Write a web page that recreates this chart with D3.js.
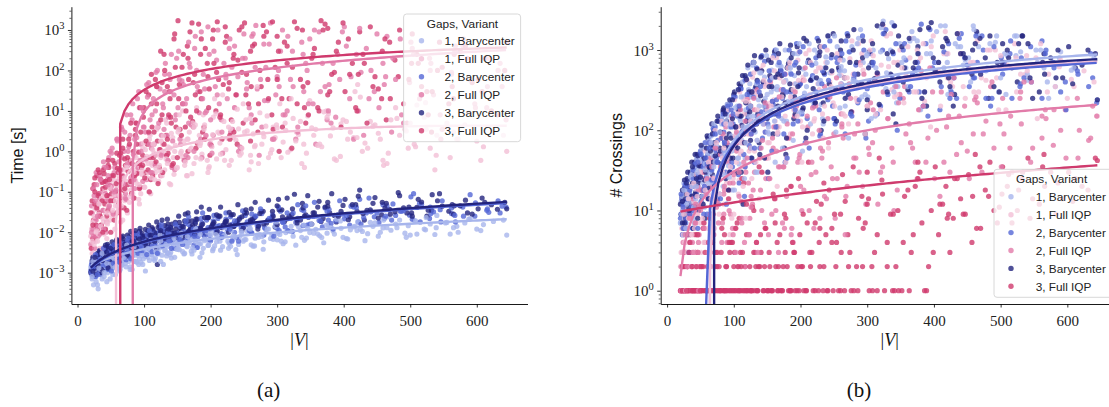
<!DOCTYPE html>
<html>
<head>
<meta charset="utf-8">
<script src="https://cdn.jsdelivr.net/npm/d3@7"></script>
<style>
  body { margin: 0; background: #fff; }
  svg { display: block; }
</style>
</head>
<body>
<script>
// ------------------------------------------------------------------
// Data: one entry per graph instance, grouped by number of gaps.
// Each variant (Barycenter / Full IQP) was run on the same graphs.
// ------------------------------------------------------------------
const hueLabels = ["1, Barycenter", "1, Full IQP", "2, Barycenter", "2, Full IQP", "3, Barycenter", "3, Full IQP"];
const hueColors = ["#a7b5ec", "#f3bfd6", "#5466d6", "#e27ba9", "#23247e", "#cf3a6d"];

const xTicks = [0, 100, 200, 300, 400, 500, 600];
const timeTicks = [1e-3, 1e-2, 1e-1, 1e0, 1e1, 1e2, 1e3];
const crossTicks = [1e0, 1e1, 1e2, 1e3];

// |V| of the instances with 1, 2 and 3 gaps
const gaps1V = [
20,21,23,24,26,27,28,30,31,33,
34,36,37,39,41,42,44,46,47,49,
51,53,54,56,58,60,62,63,65,67,
69,71,73,75,77,80,82,84,86,89,
91,93,96,98,100,103,105,108,110,112,
115,117,119,
122,125,128,131,134,137,140,143,146,150,
153,157,160,164,168,171,175,179,183,187,
191,196,200,204,209,213,218,223,228,233,
238,244,249,
255,261,267,274,280,287,294,301,309,316,
324,332,341,349,358,367,377,386,396,406,417,
428,440,452,465,478,492,506,521,537,553,
570,588,606,625,645,
20,22,23,25,26,29,30,32,35,36,
38,40,41,43,45,48,50,52,55,57,
59,61,64,66,68,70,72,74,78,79,
81,83,85,87,90,92,94,97,99,101,
104,106,107,109,111,113,116,118,120,121,
123,126,127,130,132,135,136,138,141,144,
147,149,152,155,158,162,165,169,172,177,
181,185,189,193,198,202,206,211,215,220,
226,231,236,242,247,253,258,264,270,277,
283,290,297,304,312,320,329,337,346,355,
364,374,384,395,404,415,425,436,447,459,
471,484,497,510,524,539,555,572,590,610,
22,25,28,32,37,40,44,49,53,57,
62,66,70,74,79,83,88,93,97,102,
106,111,114,118,124,129,133,139,145,151,
156,161,166,173,178,184,190,197,203,208,
214,221,227,234,240,246,251,259,266,272,
279,285,292,299,306,313,321,328,335,344,
352,361,370,380,389,399,410,421,432,444,
455,467,480,494,508,523,540,560,582,600,
45,85,95,125,135,165,175,185,195,230,
260,300,340,375,420,460,500,530,565,640];

const gaps2V = [
20,22,23,25,26,28,29,31,32,34,
35,37,38,40,42,43,45,47,48,50,
52,53,55,57,59,61,62,64,66,68,
70,72,74,76,79,81,83,85,88,90,
92,95,97,99,102,104,107,109,111,114,
116,118,121,
124,126,129,132,135,139,142,145,148,152,
155,159,162,166,169,173,177,181,185,189,
194,198,202,207,211,216,220,225,230,236,
241,246,252,
258,264,270,277,283,290,298,305,312,320,
328,337,345,354,363,372,381,391,401,411,422,
434,446,459,472,485,499,514,529,545,562,
579,597,616,635,644,
21,21,24,24,27,28,31,33,34,37,
39,39,42,44,46,47,49,51,54,56,
58,60,63,65,67,69,71,73,75,77,
80,82,84,86,89,91,93,96,98,100,
103,105,108,110,112,115,117,119,122,123,
125,128,130,131,134,137,140,143,146,149,
151,154,157,160,164,167,171,175,179,183,
187,191,196,200,204,209,213,218,223,228,
233,239,244,250,255,261,267,273,280,286,
293,300,308,315,323,331,340,349,358,368,
378,388,398,409,419,430,441,453,465,478,
490,503,517,531,546,562,580,598,618,638,
24,27,30,34,39,43,47,51,55,60,
63,67,72,76,80,85,90,94,99,104,
108,112,117,120,126,131,136,141,147,153,
158,163,168,174,180,186,192,199,205,210,
217,223,229,236,242,248,254,262,268,275,
281,288,295,302,309,316,324,331,339,347,
356,365,375,384,394,404,415,426,438,450,
461,474,487,501,515,530,548,567,590,615,
46,86,96,126,138,167,176,188,193,232,
262,303,343,377,424,463,505,535,568,632];

const gaps3V = [
21,22,24,25,27,28,29,30,32,33,
35,36,38,39,41,43,44,45,47,49,
50,52,54,56,57,59,61,63,64,66,
68,70,72,75,77,79,81,84,86,88,
91,93,95,98,100,102,105,107,110,112,
114,117,120,
123,127,130,133,136,138,141,144,147,151,
154,158,161,165,170,174,178,182,186,190,
195,199,203,208,212,217,222,227,231,235,
240,247,251,
257,263,271,276,284,292,297,303,311,318,
326,335,343,352,361,369,379,389,399,409,420,
431,444,457,469,482,495,510,525,541,558,
575,593,612,631,645,
20,23,23,26,26,28,31,31,34,37,
37,40,42,42,46,46,48,51,53,55,
58,60,62,65,67,69,71,74,76,78,
80,82,85,87,89,92,94,96,99,101,
103,106,108,109,111,113,115,118,119,121,
124,125,128,131,134,135,139,142,145,148,
150,153,156,159,163,166,169,173,176,180,
184,188,192,197,201,205,210,214,219,224,
229,234,238,243,249,254,260,266,272,279,
286,294,300,307,315,322,330,339,347,356,
366,376,386,396,407,418,429,440,452,464,
477,490,503,517,532,548,565,583,602,622,
23,26,29,33,38,42,46,50,54,59,
63,68,71,75,80,84,89,94,98,103,
107,111,116,119,125,130,135,140,146,152,
157,162,167,172,179,185,191,198,204,209,
215,222,228,235,241,247,253,260,267,274,
280,287,293,300,308,315,323,330,338,346,
354,363,372,382,392,402,413,424,435,447,
458,470,484,498,512,527,544,563,586,608,
44,87,93,127,137,166,177,186,196,229,
261,302,341,376,422,462,502,533,566,642];

// Running time [s]
const time1Bary = [
0.0012,0.0009,0.0016,0.0005,0.0011,0.0020,0.0008,0.0013,0.0004,0.0017,
0.0010,0.0022,0.0007,0.0014,0.0019,0.0011,0.0006,0.0025,0.0015,0.0012,
0.0021,0.0009,0.0017,0.0028,0.0013,0.0019,0.0024,0.0011,0.0030,0.0016,
0.0021,0.0026,0.0014,0.0033,0.0019,0.0024,0.0012,0.0029,0.0036,0.0018,
0.0027,0.0022,0.0040,0.0016,0.0031,0.0025,0.0045,0.0020,0.0034,0.0028,
0.0052,0.0023,0.0038,
0.0030,0.0019,0.0043,0.0035,0.0026,0.0058,0.0032,0.0041,0.0024,0.0050,
0.0037,0.0065,0.0029,0.0046,0.0055,0.0034,0.0072,0.0042,0.0051,0.0031,
0.0062,0.0047,0.0083,0.0039,0.0058,0.0070,0.0044,0.0092,0.0053,0.0066,
0.0037,0.0078,0.0060,
0.0105,0.0049,0.0071,0.0088,0.0058,0.0120,0.0067,0.0095,0.0052,0.0110,
0.0080,0.0136,0.0063,0.0098,0.0118,0.0074,0.0150,0.0090,0.0125,0.0068,0.0140,
0.0105,0.0175,0.0080,0.0130,0.0160,0.0095,0.0195,0.0120,0.0088,0.0170,
0.0140,0.0210,0.0110,0.0185,0.0085,
0.0014,0.0007,0.0019,0.0011,0.0026,0.0009,0.0005,0.0016,0.0021,0.0012,
0.0018,0.0008,0.0024,0.0014,0.0010,0.0031,0.0017,0.0013,0.0022,0.0009,
0.0026,0.0015,0.0012,0.0034,0.0020,0.0029,0.0017,0.0039,0.0023,0.0014,
0.0031,0.0044,0.0019,0.0027,0.0036,0.0016,0.0050,0.0030,0.0022,0.0041,
0.0033,0.0024,0.0057,0.0038,0.0028,0.0047,0.0020,0.0035,0.0062,0.0029,
0.0040,0.0052,0.0027,0.0068,0.0036,0.0045,0.0031,0.0059,0.0023,0.0049,
0.0063,0.0038,0.0048,0.0080,0.0033,0.0056,0.0044,0.0070,0.0029,0.0060,
0.0051,0.0089,0.0040,0.0067,0.0057,0.0100,0.0046,0.0075,0.0036,0.0083,
0.0060,0.0110,0.0072,0.0050,0.0095,0.0066,0.0125,0.0045,0.0085,0.0078,
0.0115,0.0070,0.0140,0.0088,0.0058,0.0105,0.0160,0.0075,0.0125,0.0095,
0.0082,0.0150,0.0108,0.0190,0.0070,0.0135,0.0118,0.0092,0.0170,0.0128,
0.0112,0.0200,0.0145,0.0090,0.0230,0.0130,0.0175,0.0100,0.0215,0.0155,
0.0008,0.0021,0.0006,0.0013,0.0030,0.0010,0.0017,0.0007,0.0024,0.0014,
0.0036,0.0015,0.0024,0.0048,0.0012,0.0030,0.0019,0.0058,0.0026,0.0011,
0.0040,0.0065,0.0022,0.0033,0.0085,0.0016,0.0050,0.0028,0.0072,0.0038,
0.0095,0.0030,0.0055,0.0042,0.0120,0.0024,0.0068,0.0048,0.0035,0.0088,
0.0060,0.0130,0.0040,0.0082,0.0028,0.0105,0.0066,0.0150,0.0046,0.0075,
0.0038,0.0120,0.0085,0.0180,0.0060,0.0098,0.0140,0.0048,0.0110,0.0072,
0.0160,0.0090,0.0055,0.0130,0.0210,0.0075,0.0115,0.0180,0.0062,0.0140,
0.0100,0.0240,0.0130,0.0075,0.0190,0.0115,0.0260,0.0090,0.0170,0.0120,
0.0026,0.0044,0.0018,0.0062,0.0030,0.0078,0.0036,0.0052,0.0100,0.0045,
0.0120,0.0065,0.0150,0.0095,0.0110,0.0200,0.0085,0.0160,0.0130,0.0200];

const time1Iqp = [
0.004,0.012,0.003,0.008,0.020,0.006,0.015,0.035,0.009,0.004,
0.025,0.060,0.012,0.018,0.090,0.030,0.007,0.045,0.150,0.020,
0.070,0.030,0.200,0.012,0.100,0.045,0.250,0.080,0.018,0.140,
0.350,0.060,0.180,0.030,0.500,0.110,0.250,0.070,0.800,0.160,
0.400,0.050,0.280,1.200,0.130,0.600,0.220,2.000,0.090,0.450,
0.900,0.300,3.500,
0.180,0.700,1.500,0.350,5.000,0.550,0.150,2.200,1.000,0.400,
8.000,0.750,1.800,0.250,3.000,1.200,0.500,12.00,2.500,0.850,
4.500,0.300,1.600,7.000,0.650,2.800,25.00,1.100,0.450,5.500,
1.900,0.800,15.00,
3.200,0.550,1.400,9.000,2.300,0.700,4.000,60.00,1.700,0.950,
6.500,2.600,0.400,18.00,3.500,1.300,8.500,0.650,4.800,2.000,30.00,
1.000,5.500,2.800,0.500,12.00,3.500,1.500,7.000,0.350,4.000,
2.000,9.000,0.600,3.000,1.000,
0.008,0.003,0.018,0.005,0.040,0.011,0.006,0.028,0.014,0.070,
0.022,0.009,0.110,0.035,0.016,0.060,0.190,0.026,0.085,0.045,
0.140,0.032,0.300,0.075,0.020,0.220,0.110,0.450,0.055,0.170,
0.600,0.090,0.350,0.190,1.000,0.065,0.420,0.270,1.600,0.130,
0.750,0.300,0.100,2.500,0.520,1.100,0.200,0.380,4.000,0.850,
0.450,1.800,0.250,0.950,6.000,0.600,1.300,0.160,2.800,0.700,
1.400,0.380,3.500,0.900,10.00,0.550,2.000,1.100,0.280,4.500,
1.700,0.650,8.000,2.400,0.420,1.300,20.00,3.000,0.850,5.500,
2.100,0.600,12.00,3.600,1.200,6.000,0.350,2.700,40.00,1.500,
4.200,0.900,2.200,15.00,5.000,1.100,3.000,0.500,7.500,2.500,
1.500,10.00,3.800,0.750,5.500,2.200,22.00,1.200,4.500,0.600,
6.000,2.500,1.200,14.00,3.500,0.800,5.000,2.000,9.000,1.300,
0.006,0.025,0.010,0.050,0.004,0.080,0.018,0.130,0.035,0.060,
0.200,0.045,0.120,0.400,0.075,0.250,0.700,0.150,0.350,1.100,
0.500,0.220,1.500,0.800,0.330,2.400,0.650,1.200,0.270,3.000,
1.000,0.450,2.000,5.000,0.700,1.400,3.500,0.380,2.600,8.500,
1.600,0.600,4.000,2.200,11.00,0.900,3.000,6.500,1.300,0.500,
2.800,7.500,1.100,4.500,0.700,3.300,20.00,1.800,5.500,0.900,
3.800,1.400,9.500,2.400,0.600,6.000,3.000,45.00,1.600,4.200,
2.000,0.900,6.500,3.200,1.300,16.00,2.500,0.700,4.500,1.800,
0.030,0.300,0.090,1.800,0.500,0.250,4.000,1.600,0.600,3.600,
0.800,3.800,1.500,7.000,2.200,0.450,5.000,1.200,3.000,2.500];

const time2Bary = [
0.0011,0.0018,0.0008,0.0014,0.0022,0.0010,0.0017,0.0026,0.0013,0.0020,
0.0009,0.0030,0.0016,0.0024,0.0035,0.0013,0.0027,0.0040,0.0019,0.0031,
0.0022,0.0045,0.0016,0.0036,0.0027,0.0050,0.0021,0.0040,0.0032,0.0058,
0.0025,0.0046,0.0037,0.0065,0.0029,0.0052,0.0041,0.0075,0.0033,0.0060,
0.0047,0.0085,0.0038,0.0066,0.0053,0.0095,0.0042,0.0073,0.0058,0.0110,
0.0048,0.0080,0.0064,
0.0120,0.0052,0.0088,0.0070,0.0135,0.0058,0.0095,0.0078,0.0150,0.0065,
0.0105,0.0085,0.0165,0.0072,0.0115,0.0093,0.0180,0.0078,0.0125,0.0100,
0.0200,0.0085,0.0135,0.0110,0.0220,0.0092,0.0150,0.0120,0.0240,0.0100,
0.0165,0.0130,0.0260,
0.0110,0.0180,0.0145,0.0290,0.0120,0.0200,0.0160,0.0330,0.0135,0.0220,
0.0175,0.0360,0.0150,0.0245,0.0195,0.0400,0.0165,0.0270,0.0215,0.0440,0.0180,
0.0300,0.0240,0.0480,0.0200,0.0330,0.0265,0.0520,0.0220,0.0360,0.0290,
0.0420,0.0250,0.0380,0.0300,0.0420,
0.0016,0.0010,0.0023,0.0013,0.0008,0.0019,0.0027,0.0012,0.0021,0.0033,
0.0015,0.0026,0.0020,0.0038,0.0012,0.0030,0.0022,0.0044,0.0017,0.0034,
0.0025,0.0048,0.0019,0.0036,0.0055,0.0028,0.0042,0.0021,0.0060,0.0033,
0.0046,0.0026,0.0068,0.0038,0.0053,0.0030,0.0077,0.0044,0.0035,0.0062,
0.0050,0.0085,0.0039,0.0066,0.0033,0.0094,0.0055,0.0072,0.0043,0.0105,
0.0060,0.0046,0.0115,0.0075,0.0052,0.0090,0.0128,0.0064,0.0040,0.0098,
0.0083,0.0140,0.0058,0.0110,0.0070,0.0155,0.0092,0.0048,0.0125,0.0100,
0.0170,0.0080,0.0130,0.0062,0.0190,0.0110,0.0145,0.0088,0.0210,0.0120,
0.0160,0.0075,0.0230,0.0135,0.0180,0.0100,0.0250,0.0150,0.0085,0.0200,
0.0270,0.0125,0.0180,0.0300,0.0105,0.0220,0.0340,0.0160,0.0250,0.0135,
0.0370,0.0190,0.0280,0.0150,0.0410,0.0230,0.0320,0.0175,0.0450,0.0260,
0.0340,0.0210,0.0490,0.0290,0.0180,0.0400,0.0250,0.0530,0.0310,0.0440,
0.0014,0.0028,0.0009,0.0020,0.0040,0.0015,0.0032,0.0011,0.0050,0.0025,
0.0018,0.0045,0.0030,0.0072,0.0022,0.0055,0.0095,0.0035,0.0065,0.0028,
0.0110,0.0045,0.0075,0.0030,0.0130,0.0058,0.0095,0.0040,0.0160,0.0068,
0.0050,0.0190,0.0085,0.0120,0.0042,0.0220,0.0100,0.0065,0.0260,0.0140,
0.0075,0.0300,0.0120,0.0190,0.0060,0.0340,0.0160,0.0095,0.0250,0.0380,
0.0130,0.0220,0.0080,0.0420,0.0175,0.0110,0.0300,0.0480,0.0145,0.0240,
0.0550,0.0190,0.0330,0.0120,0.0600,0.0260,0.0420,0.0160,0.0700,0.0300,
0.0220,0.0500,0.0330,0.0750,0.0180,0.0420,0.0600,0.0260,0.0850,0.0350,
0.0022,0.0090,0.0040,0.0160,0.0060,0.0240,0.0080,0.0300,0.0110,0.0060,
0.0280,0.0110,0.0450,0.0200,0.0650,0.0250,0.0900,0.0320,0.0180,0.0600];

const time2Iqp = [
0.005,0.030,0.012,0.080,0.004,0.020,0.150,0.008,0.050,0.250,
0.015,0.100,0.035,0.400,0.060,0.010,0.200,0.700,0.045,0.120,
1.200,0.030,0.300,0.080,2.000,0.180,0.550,0.040,4.000,0.250,
1.000,0.090,8.000,0.450,2.500,0.150,15.00,0.800,5.000,0.300,
30.00,1.500,0.600,10.00,3.000,0.200,50.00,6.000,1.200,20.00,
0.500,90.00,4.000,
35.00,0.900,12.00,150.0,2.500,60.00,0.400,25.00,8.000,300.0,
1.500,45.00,15.00,0.700,120.0,5.000,700.0,30.00,2.000,80.00,
10.00,250.0,0.900,40.00,1000,6.000,150.0,20.00,3.000,400.0,
70.00,1.200,200.0,
12.00,800.0,35.00,4.000,120.0,1500,25.00,300.0,8.000,60.00,
2.000,500.0,100.0,15.00,900.0,40.00,5.000,250.0,1200,70.00,10.00,
350.0,30.00,150.0,3.000,600.0,50.00,20.00,200.0,8.000,90.00,
400.0,15.00,40.00,150.0,6.000,
0.010,0.045,0.006,0.120,0.022,0.300,0.014,0.070,0.009,0.180,
0.035,0.550,0.090,0.018,0.250,0.060,1.000,0.140,0.028,0.400,
0.110,1.800,0.040,0.350,0.700,0.160,3.000,0.065,0.500,1.300,
0.220,6.000,0.850,0.120,2.200,0.400,12.00,1.000,0.180,4.000,
0.650,22.00,2.800,0.300,8.000,1.500,0.450,40.00,5.000,1.100,
0.250,15.00,3.500,80.00,0.800,7.000,30.00,1.800,0.350,200.0,
12.00,2.000,55.00,0.600,20.00,500.0,4.500,1.000,100.0,9.000,
0.700,35.00,1200,6.000,2.500,180.0,15.00,0.900,65.00,350.0,
3.500,25.00,1.300,800.0,50.00,8.000,120.0,0.800,450.0,18.00,
2.000,70.00,1000,10.00,300.0,4.000,30.00,600.0,1.500,150.0,
45.00,7.000,900.0,20.00,250.0,2.500,100.0,12.00,700.0,60.00,
5.000,350.0,25.00,150.0,2.000,80.00,600.0,12.00,200.0,40.00,
0.008,0.060,0.025,0.200,0.012,0.400,0.040,0.900,0.100,2.000,
0.300,3.500,0.070,1.000,8.000,0.200,20.00,0.600,4.000,45.00,
1.500,0.300,10.00,100.0,2.500,30.00,0.600,250.0,6.000,60.00,
15.00,0.800,150.0,4.000,40.00,900.0,9.000,1.500,300.0,25.00,
3.000,80.00,600.0,12.00,1.000,200.0,35.00,5.000,1300,60.00,
18.00,450.0,2.000,100.0,8.000,700.0,40.00,3.000,250.0,15.00,
1000,30.00,6.000,150.0,60.00,400.0,2.000,90.00,20.00,800.0,
45.00,200.0,8.000,500.0,25.00,100.0,3.500,300.0,60.00,12.00,
0.150,2.000,12.00,0.800,80.00,5.000,350.0,20.00,2.500,120.0,
700.0,40.00,150.0,10.00,1100,70.00,250.0,25.00,400.0,100.0];

const time3Bary = [
0.0012,0.0020,0.0009,0.0015,0.0025,0.0011,0.0018,0.0030,0.0014,0.0022,
0.0010,0.0035,0.0019,0.0027,0.0042,0.0016,0.0031,0.0050,0.0023,0.0037,
0.0014,0.0058,0.0028,0.0043,0.0019,0.0066,0.0034,0.0050,0.0024,0.0075,
0.0040,0.0056,0.0030,0.0085,0.0046,0.0064,0.0035,0.0095,0.0052,0.0072,
0.0040,0.0105,0.0058,0.0080,0.0045,0.0118,0.0064,0.0088,0.0050,0.0130,
0.0070,0.0096,0.0016,
0.0145,0.0078,0.0105,0.0060,0.0160,0.0085,0.0115,0.0066,0.0175,0.0093,
0.0125,0.0072,0.0190,0.0100,0.0135,0.0079,0.0210,0.0110,0.0148,0.0086,
0.0230,0.0120,0.0160,0.0094,0.0250,0.0130,0.0175,0.0100,0.0270,0.0140,
0.0190,0.0110,0.0300,
0.0155,0.0210,0.0120,0.0330,0.0170,0.0230,0.0135,0.0360,0.0185,0.0250,
0.0870,0.0200,0.0270,0.0160,0.0420,0.0220,0.0300,0.0180,0.0460,0.0240,0.0330,
0.0200,0.0520,0.0270,0.0370,0.0950,0.0300,0.0410,0.0250,0.0600,0.0330,
0.0450,0.0280,0.0550,0.0370,0.0380,
0.0010,0.0017,0.0024,0.0013,0.0021,0.0009,0.0028,0.0016,0.0034,0.0020,
0.0012,0.0030,0.0024,0.0039,0.0017,0.0045,0.0027,0.0021,0.0033,0.0051,
0.0038,0.0023,0.0060,0.0045,0.0030,0.0068,0.0037,0.0053,0.0026,0.0078,
0.0044,0.0062,0.0032,0.0088,0.0050,0.0071,0.0038,0.0097,0.0057,0.0080,
0.0046,0.0110,0.0065,0.0085,0.0052,0.0120,0.0072,0.0094,0.0040,0.0132,
0.0078,0.0100,0.0060,0.0145,0.0088,0.0112,0.0068,0.0160,0.0094,0.0122,
0.0075,0.0175,0.0105,0.0135,0.0082,0.0190,0.0115,0.0148,0.0090,0.0210,
0.0125,0.0160,0.0098,0.0230,0.0138,0.0175,0.0108,0.0250,0.0150,0.0190,
0.0118,0.0275,0.0165,0.0210,0.0130,0.0300,0.0180,0.0230,0.0142,0.0330,
0.0195,0.0250,0.0155,0.0360,0.0215,0.0275,0.0170,0.0400,0.0235,0.0300,
0.0185,0.0440,0.0260,0.0330,0.0205,0.0480,0.0290,0.0360,0.0225,0.0520,
0.0320,0.0400,0.0250,0.0560,0.0350,0.0440,0.0280,0.0620,0.0380,0.0480,
0.0011,0.0024,0.0016,0.0035,0.0020,0.0048,0.0013,0.0040,0.0027,0.0062,
0.0035,0.0080,0.0050,0.0028,0.0105,0.0060,0.0040,0.0125,0.0075,0.0055,
0.0150,0.0085,0.0060,0.0180,0.0110,0.0070,0.0210,0.0130,0.0095,0.0250,
0.0140,0.0280,0.0105,0.0190,0.0320,0.0125,0.0230,0.0370,0.0160,0.0270,
0.0420,0.0180,0.0310,0.0140,0.0480,0.0240,0.0360,0.0200,0.0550,0.0290,
0.0160,0.0620,0.0330,0.0450,0.0240,0.0700,0.0380,0.0200,0.0520,0.0800,
0.0300,0.0580,0.0420,0.0900,0.0250,0.0650,0.0480,0.1100,0.0350,0.0720,
0.0550,0.0280,0.0800,0.0420,0.0650,0.0350,0.0900,0.0480,0.0300,0.0700,
0.0032,0.0110,0.0068,0.0200,0.0120,0.0300,0.0165,0.0420,0.0230,0.0150,
0.0380,0.0650,0.0250,0.0550,0.0780,0.0400,0.0300,0.0850,0.0450,0.0550];

const time3Iqp = [
0.004,0.060,0.020,0.150,0.008,0.040,0.250,0.012,0.090,0.030,
0.200,0.015,0.120,0.350,0.050,0.180,0.025,0.080,0.400,0.140,
0.010,0.250,0.060,0.500,0.100,0.030,0.300,0.800,0.070,0.200,
1.200,0.040,0.450,0.150,2.000,0.600,0.090,1.000,0.250,5.000,
0.500,0.120,3.000,0.800,12.00,0.300,1.500,25.00,0.200,4.000,
0.700,60.00,1.800,
0.400,8.000,250.0,2.500,0.900,30.00,5.000,0.500,120.0,1700,
3.500,15.00,0.600,400.0,7.000,50.00,1.200,1400,20.00,4.000,
150.0,0.800,600.0,10.00,60.00,2.000,1200,35.00,6.000,250.0,
1.500,90.00,1500,
15.00,400.0,3.000,40.00,900.0,8.000,120.0,1.000,500.0,20.00,
1600,60.00,5.000,200.0,12.00,1000,30.00,300.0,1500,80.00,10.00,
150.0,40.00,20.00,500.0,70.00,5.000,250.0,30.00,100.0,15.00,
300.0,50.00,200.0,8.000,500.0,
0.030,0.120,0.007,0.220,0.050,0.015,0.350,0.080,0.025,0.170,
0.060,0.280,0.012,0.130,0.450,0.035,0.200,0.090,0.600,0.020,
0.160,0.380,0.055,0.900,0.240,0.110,0.650,0.035,0.320,1.500,
0.180,0.500,0.070,2.500,0.280,0.950,0.130,0.400,7.000,0.220,
1.800,0.350,0.100,0.700,15.00,0.250,3.000,0.550,40.00,0.160,
1.100,6.000,0.300,100.0,0.800,2.000,20.00,0.450,600.0,4.000,
0.700,45.00,2.500,250.0,10.00,1.000,900.0,5.500,80.00,1.600,
30.00,3.000,350.0,12.00,1.400,150.0,1600,7.000,45.00,700.0,
2.500,200.0,25.00,1000,5.000,80.00,1.800,450.0,15.00,1300,
60.00,3.500,700.0,20.00,150.0,1.200,1100,40.00,8.000,350.0,
1700,25.00,90.00,4.000,600.0,12.00,250.0,1200,35.00,6.000,
180.0,15.00,800.0,40.00,3.000,120.0,20.00,400.0,60.00,10.00,
0.015,0.100,0.040,0.300,0.010,0.180,0.600,0.060,0.250,0.900,
0.350,2.000,0.120,0.700,5.000,0.250,1.500,12.00,0.450,30.00,
3.000,80.00,0.800,15.00,300.0,1.500,40.00,7.000,800.0,20.00,
120.0,4.000,60.00,1500,10.00,250.0,2.000,35.00,1000,90.00,
8.000,500.0,50.00,3.000,180.0,1200,25.00,300.0,6.000,100.0,
700.0,20.00,1600,60.00,4.000,400.0,120.0,15.00,1000,50.00,
250.0,10.00,1400,80.00,500.0,30.00,150.0,900.0,5.000,70.00,
300.0,20.00,1000,60.00,150.0,8.000,500.0,40.00,200.0,30.00,
0.080,3.500,0.500,50.00,8.000,200.0,25.00,600.0,70.00,2.000,
40.00,300.0,12.00,1100,80.00,600.0,150.0,30.00,250.0,100.0];

// Number of crossings
const cross1Bary = [
7,13,5,17,10,8,21,12,6,15,
18,9,30,14,7,24,40,12,20,33,
15,45,22,11,60,28,19,75,35,9,
48,26,90,14,55,33,120,20,70,42,
150,30,85,18,110,60,200,38,130,75,
260,45,160,
320,190,650,120,380,240,800,150,460,280,
90,560,330,1000,190,620,400,130,750,260,
480,900,170,580,350,1200,230,680,420,140,
820,520,300,
1100,620,200,950,420,1400,700,260,1000,500,
2300,780,350,1200,600,1700,900,300,1300,700,2000,
450,1100,800,1600,550,1250,900,1500,650,1000,
400,800,560,700,240,
7,15,10,22,5,12,18,9,26,13,
20,8,33,14,45,11,25,60,18,38,
16,52,30,85,22,120,40,65,12,95,
48,150,28,75,210,36,110,55,250,18,
90,320,45,140,70,400,25,180,110,600,
150,60,260,700,95,380,30,200,520,120,
250,850,110,170,450,40,320,650,140,1000,
230,520,75,380,1200,170,290,700,120,450,
900,210,600,1500,330,95,480,750,260,1100,
400,1800,280,650,150,950,520,2200,350,800,
1300,480,200,900,1700,600,320,1100,750,2000,
550,1200,300,850,1500,420,700,250,950,600,
9,18,6,14,28,11,20,42,15,32,
22,70,35,15,95,48,130,26,60,190,
45,260,110,70,380,150,30,520,200,95,
300,130,650,60,420,220,900,160,55,500,
240,1000,380,120,700,300,1500,190,550,80,
420,1200,260,850,140,600,1900,330,1000,220,
700,350,1400,180,900,500,2000,280,1200,650,
400,1100,600,1500,280,850,500,1000,350,700,
30,55,120,200,75,350,130,600,240,420,
550,900,300,1300,700,1800,450,950,600,800];

const cross1Iqp = [
1,3,2,5,1,8,4,2,6,1,
10,4,3,14,6,2,18,9,5,25,
3,12,30,7,20,4,16,45,9,26,
38,6,18,55,12,28,90,8,42,22,
65,14,130,30,9,75,180,24,50,110,
240,35,70,
220,110,460,55,300,150,580,30,350,180,
70,450,240,800,110,500,300,45,620,200,
380,750,130,460,260,1000,90,540,320,160,
700,400,220,
900,480,150,780,340,1200,560,190,850,400,
2000,620,260,1000,480,1400,720,230,1100,560,1700,
350,900,640,1300,420,1000,700,1200,500,800,
300,620,430,550,150,
2,6,1,11,4,3,16,8,2,20,
5,13,3,28,9,40,7,18,4,55,
24,6,70,14,2,38,100,20,9,55,
130,30,12,80,45,180,5,65,25,240,
40,110,16,300,70,35,160,8,420,90,
55,200,25,520,120,75,280,14,150,650,
95,380,45,220,800,130,20,450,260,150,
600,90,320,180,950,40,420,250,700,130,
380,1100,200,60,520,300,850,160,450,1300,
250,650,90,1000,400,180,1500,320,700,220,
800,300,1200,110,550,900,400,1600,250,700,
450,1000,180,650,300,850,140,500,750,350,
3,9,1,14,5,22,2,30,8,18,
40,11,25,70,16,45,120,30,8,85,
160,55,20,230,90,300,40,150,420,70,
200,550,95,320,40,700,180,420,110,900,
280,140,600,80,1000,350,200,750,450,120,
500,230,900,350,1300,160,650,420,1600,280,
600,1100,300,800,450,1500,200,900,550,350,
700,300,1000,450,180,800,550,1200,350,250,
15,60,35,130,180,90,400,260,150,600,
380,200,700,1000,450,300,850,500,650,400];

const cross2Bary = [
8,14,5,11,19,7,13,24,9,16,
28,12,6,20,35,15,45,10,25,55,
18,40,9,70,26,50,14,85,32,60,
22,110,45,75,16,140,55,95,30,170,
65,210,40,120,260,85,28,180,330,100,
15,450,140,
280,45,700,330,150,60,850,380,180,25,
450,210,1000,90,520,250,40,620,300,120,
1200,360,160,70,700,420,200,1400,90,500,
240,800,120,
560,300,1600,150,650,360,80,900,420,200,
1800,480,100,1000,300,560,2100,150,700,350,1200,
250,800,450,1500,200,600,900,350,1100,250,
700,400,500,900,220,
9,16,6,12,21,8,14,3,18,11,
25,10,38,16,6,28,50,13,35,20,
45,9,70,24,32,105,17,55,40,130,
28,80,160,45,12,200,60,110,35,260,
75,150,22,330,95,50,420,130,190,65,
500,105,260,40,600,150,350,80,720,200,
120,420,55,850,240,160,550,90,300,1000,
200,650,130,380,1100,250,60,480,800,180,
550,280,1300,140,700,380,90,950,450,220,
1500,330,650,160,1000,420,2000,250,750,500,
300,1200,600,180,900,450,1600,350,700,250,
1100,500,250,800,400,1300,600,180,700,450,
11,6,20,9,32,15,25,50,18,38,
60,24,90,40,14,120,55,30,160,75,
200,90,35,280,130,60,400,170,95,550,
230,110,700,320,45,500,180,950,260,140,
650,300,85,1100,420,200,800,350,1300,160,
500,240,1000,130,700,380,1600,280,900,450,
1200,350,700,200,1800,500,950,300,1400,650,
450,1000,250,800,1300,380,650,900,300,550,
40,70,180,90,300,150,500,230,700,380,
900,400,1200,600,250,1500,700,450,1000,350];

const cross2Iqp = [
1,2,3,1,4,2,6,3,1,5,
8,2,4,12,3,7,1,18,5,10,
2,25,6,4,35,14,3,8,45,20,
5,60,11,3,30,80,7,16,110,4,
40,9,150,22,6,55,2,200,13,70,
4,30,250,
8,90,18,3,320,45,10,120,25,5,
400,60,14,160,35,7,500,80,20,4,
200,45,10,600,110,28,6,260,60,15,
140,35,8,
320,80,20,170,45,700,12,220,100,30,
400,60,18,250,120,40,550,80,25,300,150,
50,200,90,30,350,120,60,250,40,150,
65,180,45,80,150,
2,1,4,3,1,6,2,9,5,1,
3,14,7,2,20,4,1,11,30,6,
16,2,40,9,5,25,3,60,13,7,
35,4,90,18,2,50,10,120,6,28,
3,70,15,180,8,40,2,100,22,5,
60,12,250,30,4,140,18,75,7,45,
200,25,9,110,55,3,320,35,15,80,
6,150,40,20,420,70,10,190,30,100,
55,14,260,90,25,160,5,380,45,120,
20,200,70,500,35,140,10,280,90,60,
180,40,300,15,110,450,70,25,220,130,
60,250,30,120,400,80,180,45,100,200,
1,5,2,8,3,12,1,18,6,25,
4,35,14,2,50,9,70,22,5,95,
30,7,130,45,15,180,3,60,220,25,
80,10,260,35,120,5,300,50,18,150,
40,200,8,350,70,25,450,110,15,250,
90,30,500,60,180,12,300,140,40,220,
350,70,25,200,600,100,40,280,150,55,
240,90,400,35,150,300,60,180,100,250,
3,20,60,11,150,35,6,90,240,45,
120,50,350,180,30,260,90,400,140,75];

const cross3Bary = [
9,15,6,12,20,8,16,25,11,18,
30,13,22,6,40,17,28,50,10,24,
36,15,60,24,8,45,80,19,33,65,
28,100,48,14,130,60,38,170,75,25,
210,90,45,140,280,65,30,180,360,115,
12,480,160,
300,45,700,350,160,70,820,400,200,30,
480,230,950,110,560,270,50,680,320,140,
1100,380,180,80,750,440,220,1300,100,520,
260,880,140,
600,320,1500,170,700,380,90,950,440,210,
1600,500,120,1100,320,600,1800,200,800,400,1300,
280,900,500,1400,250,700,1000,400,1200,300,
800,450,600,1000,240,
12,7,18,24,9,14,30,5,20,40,
15,28,11,50,22,8,36,65,18,45,
30,85,14,55,120,40,70,22,150,50,
95,35,190,65,130,18,240,80,45,300,
110,60,380,150,30,480,90,220,130,650,
170,75,300,850,120,420,50,550,230,1000,
140,350,700,90,460,200,1200,280,60,600,
380,900,160,520,250,1400,100,700,330,450,
1100,220,600,380,1600,130,800,450,280,1000,
500,1300,240,700,2000,380,900,160,1500,600,
450,1100,300,2200,700,1400,200,900,550,1700,
800,350,1200,600,1500,250,900,450,1100,650,
13,7,22,10,35,16,48,26,12,60,
35,90,20,130,55,180,80,30,240,110,
320,150,70,430,200,100,580,270,45,750,
350,160,900,480,80,1150,260,600,190,1300,
420,220,850,130,1500,550,320,1000,250,700,
1800,380,800,180,1200,520,2100,300,950,650,
400,1400,700,250,1900,550,1100,350,1600,800,
1000,500,1500,300,800,1200,450,700,1000,380,
25,160,60,300,130,500,220,800,350,950,
1300,600,2000,900,450,1200,700,1500,500,900];

const cross3Iqp = [
1,1,2,1,1,3,1,2,1,1,
4,1,2,1,1,3,1,5,1,2,
1,1,6,1,3,1,2,1,8,1,
4,1,2,1,12,1,3,1,5,2,
1,18,1,4,2,1,7,1,3,25,
1,2,1,
5,1,10,2,1,35,3,1,6,1,
2,1,14,4,1,2,8,1,20,3,
1,5,2,1,40,3,7,1,12,2,
1,4,9,
1,28,5,1,2,15,7,1,3,45,
1,9,2,1,18,5,30,1,3,12,8,
25,9,4,35,15,7,20,10,45,12,
30,14,25,18,42,
1,2,1,1,3,1,2,1,4,1,
2,1,1,5,1,3,1,2,1,7,
1,1,4,2,1,9,1,3,1,2,
1,6,1,1,2,14,1,4,1,3,
1,2,8,1,1,3,22,1,5,1,
2,1,11,1,4,1,2,30,1,6,
1,3,1,16,2,1,5,1,9,2,
1,4,1,25,2,1,7,3,1,13,
2,1,5,18,1,4,9,1,2,35,
1,6,12,2,1,24,4,9,1,15,
3,40,1,10,5,20,8,14,28,6,
18,10,35,7,25,14,50,9,30,20,
1,2,1,3,1,1,5,1,2,1,
1,4,1,2,1,8,1,3,1,6,
1,2,1,12,1,3,1,5,2,1,
1,7,2,1,18,1,3,1,9,1,
2,1,4,22,1,6,2,1,13,3,
1,8,2,30,1,5,16,2,1,10,
4,1,20,7,2,35,12,3,25,9,
15,6,40,11,28,18,8,35,22,13,
2,1,4,1,2,1,3,1,2,6,
3,14,1,25,9,50,16,30,20,45];

// Fitted regression lines per variant: value = c0 + c1*|V| + c2*|V|^2
const fitTime = [
  [9.2e-4, 2.87e-5, 3.8e-9],
  [-0.93, 0.01725, -1.416e-5],
  [3.0e-4, 4.7e-5, 5.4e-8],
  [-41.5, 0.4979, 9.9e-5],
  [3.3e-4, 4.93e-5, 5.8e-8],
  [-48.0, 0.8414, -3.0e-4]
];
const fitCross = [
  [-126.2, 2.0862, -8.134e-4],
  [-111.2, 1.817, -8.174e-4],
  [-93.5, 1.6655, -6.921e-4],
  [-5.884, 0.3715, -6.37e-5],
  [-123.3, 1.9614, -8.964e-4],
  [9.0, 0.0344, 1.3e-5]
];

const seriesV = [gaps1V, gaps1V, gaps2V, gaps2V, gaps3V, gaps3V];
const seriesTime = [time1Bary, time1Iqp, time2Bary, time2Iqp, time3Bary, time3Iqp];
const seriesCross = [cross1Bary, cross1Iqp, cross2Bary, cross2Iqp, cross3Bary, cross3Iqp];

// ------------------------------------------------------------------
// Drawing
// ------------------------------------------------------------------
const W = 1109, H = 407;
const SERIF = "'Liberation Serif', 'DejaVu Serif', serif";
const SANS = "'Liberation Sans', Arial, sans-serif";

const svg = d3.select("body").append("svg")
  .attr("width", W).attr("height", H);
const defs = svg.append("defs");

const supDigits = s => s.replace("-", "\u2212");

function minorTicks(domain) {
  const out = [];
  const lo = Math.floor(Math.log10(domain[0])), hi = Math.ceil(Math.log10(domain[1]));
  for (let e = lo; e <= hi; e++) {
    for (let m = 2; m <= 9; m++) {
      const v = m * Math.pow(10, e);
      if (v >= domain[0] && v <= domain[1]) out.push(v);
    }
  }
  return out;
}

function drawPanel(cfg) {
  const g = svg.append("g");
  const x = d3.scaleLinear().domain(cfg.xDomain).range(cfg.xRange);
  const y = d3.scaleLog().domain(cfg.yDomain).range(cfg.yRange);
  const [x0, x1] = cfg.xRange;
  const [yb, yt] = cfg.yRange;

  defs.append("clipPath").attr("id", cfg.id + "-clip")
    .append("rect").attr("x", x0).attr("y", yt).attr("width", x1 - x0).attr("height", yb - yt);
  const plot = g.append("g").attr("clip-path", `url(#${cfg.id}-clip)`);

  // scatter: instances interleaved across variants
  const pts = [];
  const n = d3.max(seriesV, a => a.length);
  for (let i = 0; i < n; i++) {
    for (let k = 0; k < 6; k++) {
      const vals = cfg.values[k];
      if (i < seriesV[k].length && i < vals.length) pts.push({ v: seriesV[k][i], val: vals[i], k });
    }
  }
  plot.selectAll("circle.pt").data(pts).join("circle")
    .attr("class", "pt")
    .attr("cx", d => x(d.v))
    .attr("cy", d => y(d.val))
    .attr("r", 2.6)
    .attr("fill", d => hueColors[d.k])
    .attr("fill-opacity", 0.8);

  // regression lines (non-positive values drop off the log axis)
  const line = d3.line()
    .x(d => x(d.v))
    .y(d => d.val > 0 ? y(d.val) : yb + 1e5);
  for (let k = 0; k < 6; k++) {
    const [lo, hi] = d3.extent(seriesV[k]);
    const c = cfg.fits[k];
    const grid = d3.range(100).map(j => lo + (hi - lo) * j / 99);
    const fitted = grid.map(v => ({ v, val: c[0] + c[1] * v + c[2] * v * v }));
    plot.append("path").datum(fitted)
      .attr("d", line)
      .attr("fill", "none")
      .attr("stroke", hueColors[k])
      .attr("stroke-width", 2.4)
      .attr("stroke-linejoin", "round");
  }

  // x axis
  const gx = g.append("g").attr("transform", `translate(0,${yb})`)
    .call(d3.axisBottom(x).tickValues(xTicks).tickSize(3.5).tickSizeOuter(0));
  gx.select(".domain").attr("stroke", "#000").attr("stroke-width", 0.9);
  gx.selectAll(".tick line").attr("stroke", "#000").attr("stroke-width", 0.8);
  gx.selectAll(".tick text")
    .attr("y", 21.5).attr("dy", 0)
    .attr("fill", "#222")
    .style("font-family", SERIF).style("font-size", "15px");

  // y axis (major + minor)
  const gyMinor = g.append("g").attr("transform", `translate(${x0},0)`)
    .call(d3.axisLeft(y).tickValues(minorTicks(cfg.yDomain)).tickSize(2).tickFormat(""));
  gyMinor.select(".domain").remove();
  gyMinor.selectAll(".tick line").attr("stroke", "#000").attr("stroke-width", 0.6);

  const gy = g.append("g").attr("transform", `translate(${x0},0)`)
    .call(d3.axisLeft(y).tickValues(cfg.yTicks).tickSize(3.5).tickSizeOuter(0));
  gy.select(".domain").attr("stroke", "#000").attr("stroke-width", 0.9);
  gy.selectAll(".tick line").attr("stroke", "#000").attr("stroke-width", 0.8);
  gy.selectAll(".tick text").each(function (d) {
    const t = d3.select(this);
    const e = Math.round(Math.log10(d));
    t.text(null)
      .attr("x", -7).attr("dy", 0).attr("y", 5)
      .attr("fill", "#222")
      .style("font-family", SERIF).style("font-size", "15px");
    t.append("tspan").text("10");
    t.append("tspan").attr("dy", -6).style("font-size", "10.5px").text(supDigits(String(e)));
  });

  // axis titles
  g.append("text")
    .attr("transform", `translate(${cfg.yLabelX},${(yb + yt) / 2}) rotate(-90)`)
    .attr("text-anchor", "middle")
    .style("font-family", SANS).style("font-size", "16px")
    .attr("fill", "#111")
    .text(cfg.yLabel);

  const xl = g.append("text")
    .attr("x", (x0 + x1) / 2).attr("y", 346)
    .attr("text-anchor", "middle")
    .style("font-family", SERIF).style("font-size", "18px")
    .attr("fill", "#111");
  xl.append("tspan").text("|");
  xl.append("tspan").style("font-style", "italic").text("V");
  xl.append("tspan").text("|");

  g.append("text")
    .attr("x", cfg.captionX).attr("y", 397)
    .attr("text-anchor", "middle")
    .style("font-family", SERIF).style("font-size", "21px")
    .attr("fill", "#111")
    .text(cfg.caption);

  // legend
  const L = cfg.legend;
  const lg = g.append("g");
  lg.append("rect")
    .attr("x", L.x).attr("y", L.y).attr("width", L.w).attr("height", L.h)
    .attr("rx", 3).attr("ry", 3)
    .attr("fill", "#fff").attr("fill-opacity", 0.8)
    .attr("stroke", "#d4d4d4").attr("stroke-width", 0.9);
  lg.append("text")
    .attr("x", L.titleX).attr("y", L.titleY)
    .attr("text-anchor", "middle")
    .style("font-family", SANS).style("font-size", "11.8px")
    .attr("fill", "#222")
    .text("Gaps, Variant");
  hueLabels.forEach((lab, k) => {
    const cy = L.row0 + k * L.dy;
    lg.append("circle")
      .attr("cx", L.markerX).attr("cy", cy).attr("r", 2.7)
      .attr("fill", hueColors[k]).attr("fill-opacity", 0.8);
    lg.append("text")
      .attr("x", L.textX).attr("y", cy + 4.2)
      .style("font-family", SANS).style("font-size", "11.8px")
      .attr("fill", "#222")
      .text(lab);
  });
}

drawPanel({
  id: "time",
  xDomain: [-9.2, 676.2], xRange: [71.4, 527.5],
  yDomain: [1.683e-4, 3767], yRange: [304, 6.7],
  yTicks: timeTicks,
  values: seriesTime,
  fits: fitTime,
  yLabel: "Time [s]", yLabelX: 23,
  caption: "(a)", captionX: 268.6,
  legend: { x: 403.6, y: 14, w: 117, h: 127.7, titleX: 462.5, titleY: 27.5,
            row0: 40.8, dy: 18, markerX: 421.5, textX: 444.5 }
});

drawPanel({
  id: "cross",
  xDomain: [-9.6, 677], xRange: [660.7, 1118.7],
  yDomain: [0.683, 3467], yRange: [304, 6.7],
  yTicks: crossTicks,
  values: seriesCross,
  fits: fitCross,
  yLabel: "# Crossings", yLabelX: 622,
  caption: "(b)", captionX: 859,
  legend: { x: 994, y: 169.3, w: 130, h: 128, titleX: 1051.6, titleY: 183.3,
            row0: 196.8, dy: 17.9, markerX: 1011, textX: 1035.7 }
});
</script>
</body>
</html>
